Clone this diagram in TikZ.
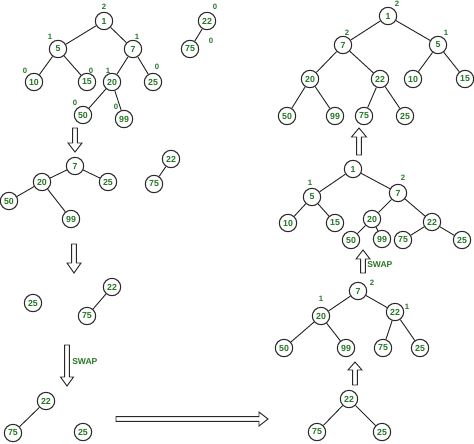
\documentclass[tikz,border=0pt]{standalone}
\usepackage{fontspec}
\setmainfont{Liberation Sans}
\definecolor{lblgreen}{RGB}{38,120,38}
\definecolor{ringgray}{RGB}{40,40,40}
\tikzset{
  nd/.style={circle,draw=ringgray,line width=0.8pt,fill=white,inner sep=0pt,minimum size=13pt,
    text=lblgreen,font=\fontsize{6.6}{7}\selectfont\bfseries},
  rk/.style={inner sep=0pt,text=lblgreen,font=\fontsize{5.8}{6}\selectfont\bfseries},
  swaptxt/.style={inner sep=0pt,anchor=west,text=lblgreen,font=\fontsize{6.4}{7}\selectfont\bfseries},
  ed/.style={draw=black!85,line width=0.7pt},
  blk/.style={draw=ringgray,line width=0.7pt,fill=white,line join=miter}
}
% vertical block arrow: x, y of tail, y of head base, y of tip, shaft half width, head half width
\newcommand\varrowblk[6]{\draw[blk] (#1-#5,#2) -- (#1+#5,#2) -- (#1+#5,#3) -- (#1+#6,#3) -- (#1,#4) -- (#1-#6,#3) -- (#1-#5,#3) -- cycle;}
\begin{document}
\begin{tikzpicture}[x=0.75pt,y=-0.75pt]
\useasboundingbox (0,0) rectangle (474,443);

% ---------- Tree A ----------
\node[nd] (a1) at (104,21) {1};
\node[nd] (a5) at (58,49) {5};
\node[nd] (a7) at (133,49) {7};
\node[nd] (a10) at (34,82) {10};
\node[nd] (a15) at (87,82) {15};
\node[nd] (a20) at (112,82) {20};
\node[nd] (a25) at (153,82) {25};
\node[nd] (a50) at (83,115) {50};
\node[nd] (a99) at (124,119) {99};
\node[nd] (a22) at (207,21) {22};
\node[nd] (a75) at (190,49) {75};
\draw[ed] (a1)--(a5) (a1)--(a7) (a5)--(a10) (a5)--(a15) (a7)--(a20) (a7)--(a25) (a20)--(a50) (a20)--(a99) (a22)--(a75);
\node[rk] (ra1) at (104,7) {2};
\node[rk] (ra5) at (50,37) {1};
\node[rk] (ra7) at (137,37) {1};
\node[rk] (ra10) at (25,71) {0};
\node[rk] (ra15) at (91,71) {0};
\node[rk] (ra20) at (108,71) {1};
\node[rk] (ra25) at (157,67) {0};
\node[rk] (ra50) at (75,103) {0};
\node[rk] (ra99) at (116,107) {0};
\node[rk] (ra22) at (215,7) {0};
\node[rk] (ra75) at (211,41) {0};

\varrowblk{75}{128}{143}{152}{2.3}{7}

% ---------- Tree B ----------
\node[nd] (b7) at (75,166) {7};
\node[nd] (b20) at (42,182) {20};
\node[nd] (b25) at (108,182) {25};
\node[nd] (b50) at (9,201) {50};
\node[nd] (b99) at (71,219) {99};
\node[nd] (b22) at (171,159) {22};
\node[nd] (b75) at (154,184) {75};
\draw[ed] (b7)--(b20) (b7)--(b25) (b20)--(b50) (b20)--(b99) (b22)--(b75);

\varrowblk{74}{244}{263}{273}{2.3}{7}

% ---------- Tree C ----------
\node[nd] (c25) at (33,303) {25};
\node[nd] (c22) at (112,287) {22};
\node[nd] (c75) at (87,316) {75};
\draw[ed] (c22)--(c75);

\varrowblk{67}{345}{377}{386}{2.3}{6.5}
\node[swaptxt] (swapA) at (72,362) {SWAP};

% ---------- Tree D ----------
\node[nd] (d22) at (46,401) {22};
\node[nd] (d75) at (13,433) {75};
\node[nd] (d25) at (83,432) {25};
\draw[ed] (d22)--(d75);

% horizontal block arrow
\draw[blk] (116,416.7) -- (259,416.7) -- (259,412) -- (268,419) -- (259,426) -- (259,421.3) -- (116,421.3) -- cycle;

% ---------- Tree E ----------
\node[nd] (e22) at (349,399) {22};
\node[nd] (e75) at (317,432) {75};
\node[nd] (e25) at (382,432) {25};
\draw[ed] (e22)--(e75) (e22)--(e25);

\varrowblk{355}{385}{370}{362}{2.3}{7}

% ---------- Tree F ----------
\node[nd] (f7) at (358,291) {7};
\node[nd] (f20) at (321,316) {20};
\node[nd] (f22) at (395,312) {22};
\node[nd] (f50) at (284,348) {50};
\node[nd] (f99) at (346,348) {99};
\node[nd] (f75) at (383,348) {75};
\node[nd] (f25) at (420,348) {25};
\draw[ed] (f7)--(f20) (f7)--(f22) (f20)--(f50) (f20)--(f99) (f22)--(f75) (f22)--(f25);
\node[rk] (rf7) at (372,283) {2};
\node[rk] (rf20) at (321,299) {1};
\node[rk] (rf22) at (407,307) {1};

\varrowblk{363}{273}{259}{250}{2.3}{7}
\node[swaptxt] (swapB) at (367,265) {SWAP};

% ---------- Tree G ----------
\node[nd] (g1) at (353,169) {1};
\node[nd] (g5) at (312,197) {5};
\node[nd] (g7) at (398,193) {7};
\node[nd] (g10) at (288,223) {10};
\node[nd] (g15) at (335,223) {15};
\node[nd] (g20) at (372,219) {20};
\node[nd] (g22) at (432,222) {22};
\node[nd] (g50) at (351,240) {50};
\node[nd] (g99) at (382,239) {99};
\node[nd] (g75) at (403,240) {75};
\node[nd] (g25) at (462,240) {25};
\draw[ed] (g1)--(g5) (g1)--(g7) (g5)--(g10) (g5)--(g15) (g7)--(g20) (g7)--(g22) (g20)--(g50) (g20)--(g99) (g22)--(g75) (g22)--(g25);
\node[rk] (rg5) at (310,183) {1};
\node[rk] (rg7) at (403,178) {2};

\varrowblk{359}{155}{137}{128}{2.3}{7.5}

% ---------- Tree H ----------
\node[nd] (h1) at (388,16) {1};
\node[nd] (h7) at (343,45) {7};
\node[nd] (h5) at (438,45) {5};
\node[nd] (h20) at (310,79) {20};
\node[nd] (h22) at (380,79) {22};
\node[nd] (h10) at (413,79) {10};
\node[nd] (h15) at (465,79) {15};
\node[nd] (h50) at (287,116) {50};
\node[nd] (h99) at (335,116) {99};
\node[nd] (h75) at (364,116) {75};
\node[nd] (h25) at (405,116) {25};
\draw[ed] (h1)--(h7) (h1)--(h5) (h7)--(h20) (h7)--(h22) (h5)--(h10) (h5)--(h15) (h20)--(h50) (h20)--(h99) (h22)--(h75) (h22)--(h25);
\node[rk] (rh1) at (397,4) {2};
\node[rk] (rh7) at (347,33) {2};
\node[rk] (rh5) at (446,33) {1};
\end{tikzpicture}
\end{document}
